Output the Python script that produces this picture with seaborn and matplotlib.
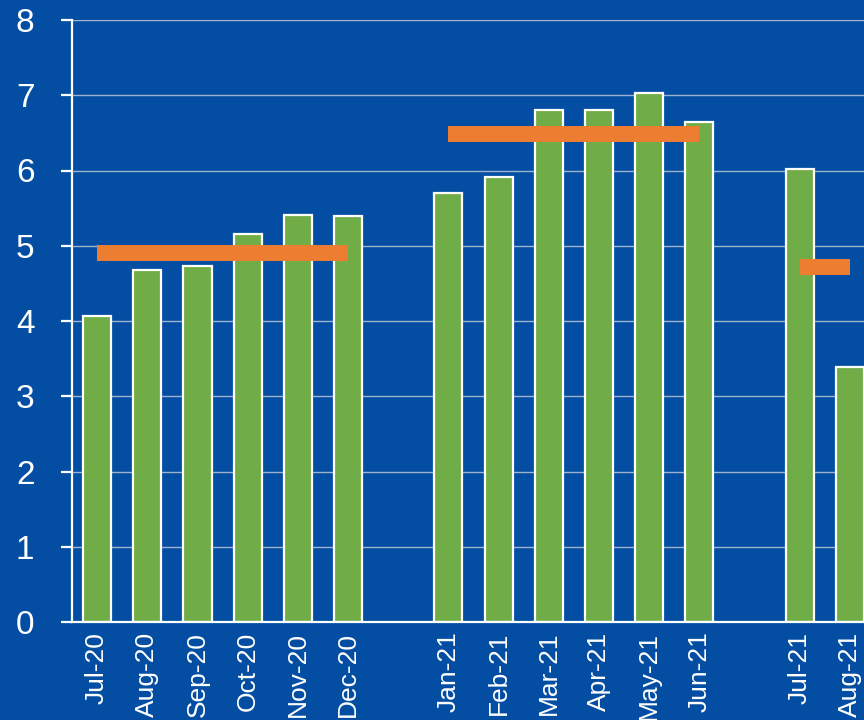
import matplotlib
matplotlib.use("Agg")
import matplotlib.pyplot as plt
import seaborn as sns
import pandas as pd

# ---- data ----
months_g1 = ["Jul-20", "Aug-20", "Sep-20", "Oct-20", "Nov-20", "Dec-20"]
values_g1 = [4.07, 4.68, 4.73, 5.16, 5.41, 5.40]
months_g2 = ["Jan-21", "Feb-21", "Mar-21", "Apr-21", "May-21", "Jun-21"]
values_g2 = [5.70, 5.91, 6.80, 6.80, 7.03, 6.64]
months_g3 = ["Jul-21", "Aug-21"]
values_g3 = [6.02, 3.39]
group_avgs = [4.90, 6.49, 4.72]

gap_labels = [" ", "  "]
order = months_g1 + [gap_labels[0]] + months_g2 + [gap_labels[1]] + months_g3

df = pd.DataFrame({
    "month": months_g1 + months_g2 + months_g3,
    "value": values_g1 + values_g2 + values_g3,
})

BG = "#034EA2"
GREEN = "#70AD47"
ORANGE = "#ED7D31"

sns.set_theme(style="white")
plt.rcParams["font.family"] = ["Liberation Sans", "DejaVu Sans"]

fig = plt.figure(figsize=(8.64, 7.2), dpi=100, facecolor=BG)
ax = fig.add_axes([72 / 864, 98 / 720, 1 - 72 / 864, (622 - 20) / 720])
ax.set_facecolor(BG)

sns.barplot(data=df, x="month", y="value", order=order, color=GREEN,
            saturation=1, width=0.56, edgecolor="white", linewidth=1.6,
            ax=ax, zorder=2)

# group average lines
groups = [months_g1, months_g2, months_g3]
for months, avg in zip(groups, group_avgs):
    x0 = order.index(months[0])
    x1 = order.index(months[-1])
    ax.hlines(avg, x0, x1, colors=ORANGE, linewidth=11.5, zorder=3,
              capstyle="butt")

ax.set_ylim(0, 8)
ax.set_xlim(-0.5, 15.28)
ax.set_yticks(range(0, 9))
ax.yaxis.grid(True, color="#C8CCD8", linewidth=1.0, alpha=0.8, zorder=0)
ax.set_axisbelow(True)

ax.set_xlabel("")
ax.set_ylabel("")

for s in ["top", "right"]:
    ax.spines[s].set_visible(False)
for s in ["left", "bottom"]:
    ax.spines[s].set_color("white")
    ax.spines[s].set_linewidth(1.6)
    ax.spines[s].set_zorder(4)

ax.tick_params(axis="y", colors="white", labelsize=24, length=8, width=1.6,
               left=True, pad=19)
ax.tick_params(axis="x", colors="white", labelsize=19, length=0, pad=7,
               labelrotation=90)

fig.savefig("out.png", dpi=100, facecolor=BG)
